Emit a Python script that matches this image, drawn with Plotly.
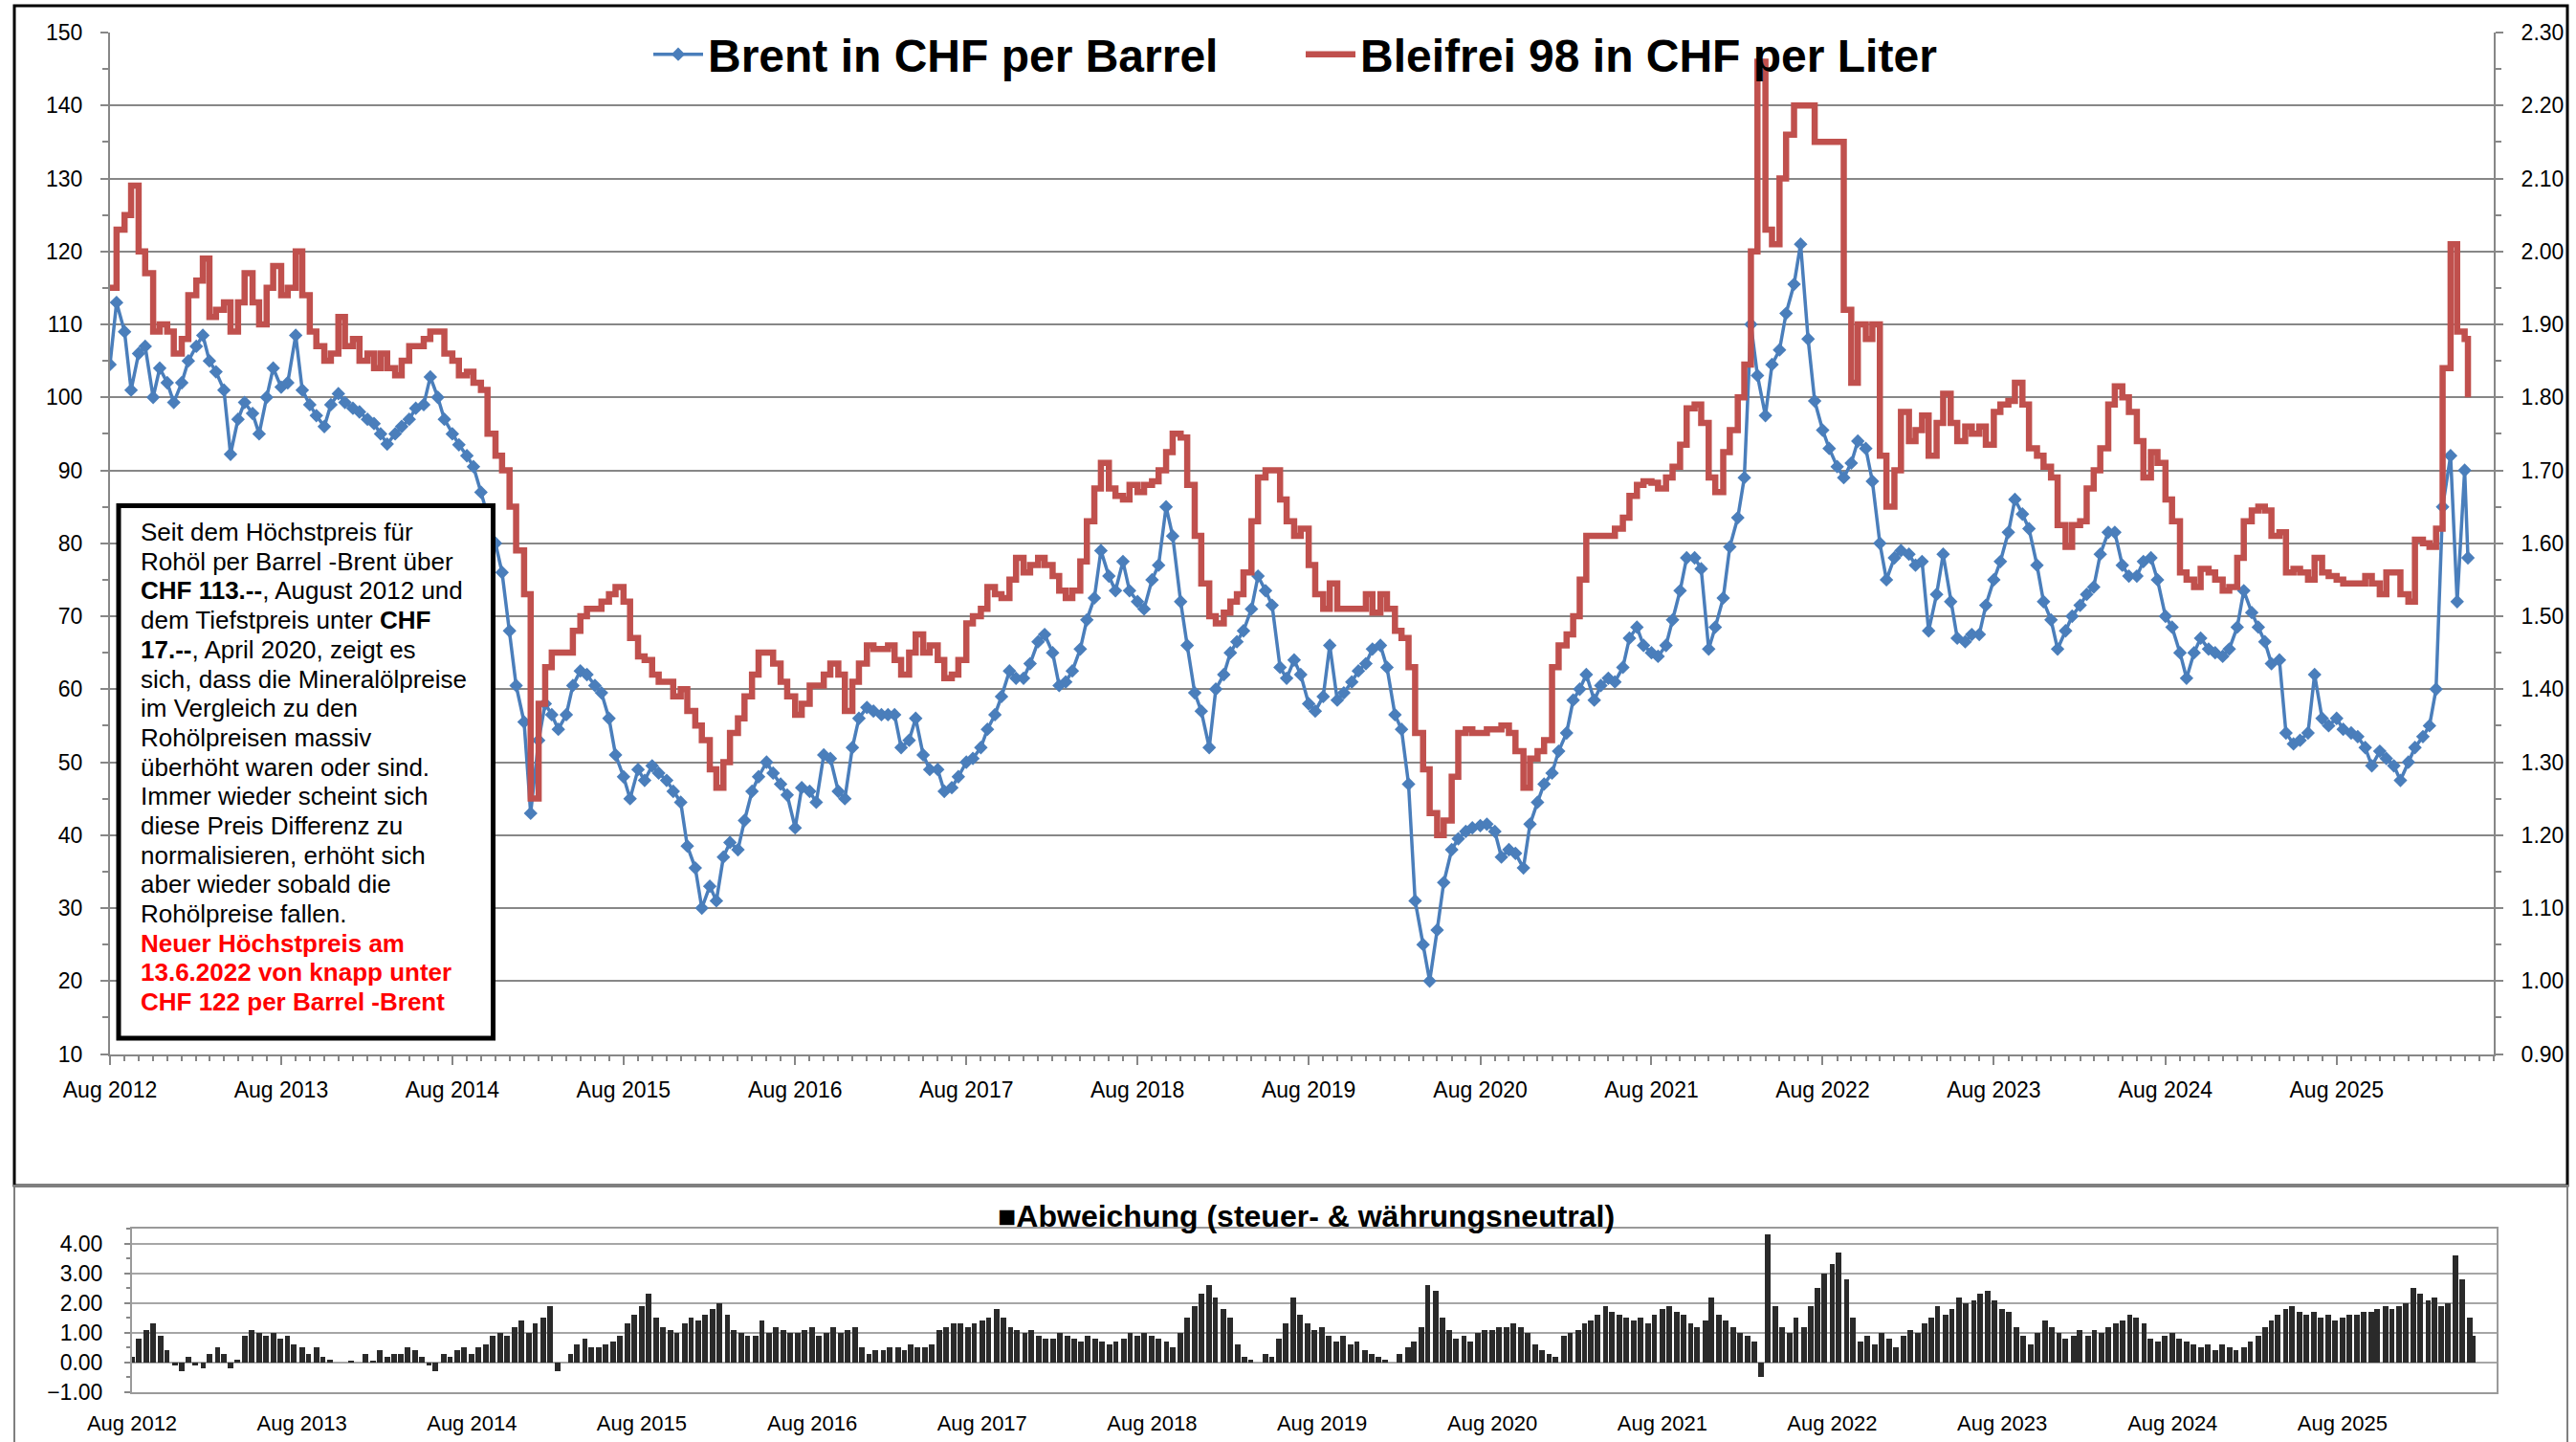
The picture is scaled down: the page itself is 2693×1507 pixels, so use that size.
import plotly.graph_objects as go

W, H = 2693, 1507
FONT = "Liberation Sans, Arial, sans-serif"
BLUE = "#4A7EBB"
RED = "#C0504D"
GRID = "#878787"

# ---------------- categories: semi-monthly dates (1st and 15th) ----------------
dates = []
for yr in range(2012, 2027):
    for mo in range(1, 13):
        if (yr, mo) < (2012, 8) or (yr, mo) > (2026, 4):
            continue
        dates.append(f"{yr}-{mo:02d}-01")
        dates.append(f"{yr}-{mo:02d}-15")
dates += ["2026-05-01", "2026-05-08"]

# ---------------- Brent in CHF per Barrel (left axis) ----------------
brent = [
    104.5, 113, 109, 101, 106, 107, 100, 104, 102, 99.3,                                   # 2012 Aug-Dec
    102, 105, 107, 108.5, 105, 103.5, 101, 92.2, 97, 99.3, 97.8, 95,
    100, 104, 101.4, 102, 108.5, 101, 99, 97.5, 96, 99, 100.5, 99.3,                       # 2013
    98.5, 98, 97, 96.4, 95, 93.6, 95, 96, 97, 98.5, 99, 102.8,
    100, 97, 95, 93.5, 92, 90.5, 87, 84, 80, 76, 68, 60.5,                                 # 2014
    55.5, 43, 53, 58, 56.5, 54.5, 56.5, 60.5, 62.5, 62, 60.5, 59.5,
    56, 51, 48, 45, 49, 47.5, 49.5, 48.5, 47.5, 46, 44.5, 38.5,                            # 2015
    35.5, 30, 33, 31, 37, 39, 38, 42, 46, 48, 50, 48.5,
    47, 45.5, 41, 46.5, 46, 44.5, 51, 50.5, 46, 45, 52, 56,                                # 2016
    57.5, 57, 56.5, 56.5, 56.5, 52, 53, 56, 51, 49, 49, 46,
    46.5, 48, 50, 50.5, 52, 54.5, 56.5, 59, 62.5, 61.5, 61.5, 63.5,                        # 2017
    66.5, 67.5, 65, 60.5, 61, 62.5, 65.5, 69.5, 72.5, 79, 75.5, 73.5,
    77.5, 73.5, 72, 71, 75, 77, 85, 81, 72, 66, 59.5, 57,                                  # 2018
    52, 60, 62, 65, 66.5, 68, 71, 75.5, 73.5, 71.5, 63, 61.5,
    64, 62, 58, 57, 59, 66, 58.5, 59.5, 61, 62.5, 63.5, 65.5,                              # 2019
    66, 63, 56.5, 54.5, 47, 31, 25, 20, 27, 33.5, 38, 39.5,
    40.5, 41, 41.3, 41.5, 40.5, 37, 38, 37.5, 35.5, 41.5, 44.5, 47,                        # 2020
    48.5, 51.5, 54, 58.5, 60, 62, 58.5, 60.5, 61.5, 61, 63, 67,
    68.5, 66, 65, 64.5, 66, 69.5, 73.5, 78, 78, 76.5, 65.5, 68.5,                          # 2021
    72.5, 79.5, 83.5, 89, 110, 103, 97.5, 104.5, 106.5, 111.5, 115.5, 121,
    108, 99.5, 95.5, 93, 90.5, 89, 91, 94, 93, 88.5, 80, 75,                               # 2022
    78, 79, 78.5, 77, 77.5, 68, 73, 78.5, 72, 67, 66.5, 67.5,
    67.5, 71.5, 75, 77.5, 81.5, 86, 84, 82, 77, 72, 69.5, 65.5,                            # 2023
    68, 70, 71.5, 73, 74, 78.5, 81.5, 81.5, 77, 75.5, 75.5, 77.5,
    78, 75, 70, 68.5, 65, 61.5, 65, 67, 65.5, 65, 64.5, 65.5,                              # 2024
    68.5, 73.5, 70.5, 68.5, 66.5, 63.5, 64, 54, 52.5, 53, 54, 62,
    56, 55, 56, 54.5, 54, 53.5, 52, 49.5, 51.5, 50.5, 49.5, 47.5,                          # 2025
    50, 52, 53.5, 55, 60, 85, 92, 72, 90, 78,                                              # 2026 Jan-May
]

# ---------------- Bleifrei 98 in CHF per Liter (right axis) ----------------
bleifrei = [
    1.95, 2.03, 2.05, 2.09, 2.00, 1.97, 1.89, 1.90, 1.89, 1.86,                            # 2012
    1.88, 1.94, 1.96, 1.99, 1.91, 1.92, 1.93, 1.89, 1.93, 1.97, 1.93, 1.90,
    1.95, 1.98, 1.94, 1.95, 2.00, 1.94, 1.89, 1.87, 1.85, 1.86, 1.91, 1.87,                # 2013
    1.88, 1.85, 1.86, 1.84, 1.86, 1.84, 1.83, 1.85, 1.87, 1.87, 1.88, 1.89,
    1.89, 1.86, 1.85, 1.83, 1.835, 1.82, 1.81, 1.75, 1.72, 1.70, 1.65, 1.59,               # 2014
    1.53, 1.25, 1.38, 1.43, 1.45, 1.45, 1.45, 1.48, 1.50, 1.51, 1.51, 1.52,
    1.53, 1.54, 1.52, 1.47, 1.445, 1.44, 1.42, 1.41, 1.41, 1.39, 1.40, 1.37,               # 2015
    1.35, 1.33, 1.29, 1.265, 1.30, 1.34, 1.36, 1.39, 1.42, 1.45, 1.45, 1.435,
    1.41, 1.39, 1.365, 1.38, 1.405, 1.405, 1.42, 1.435, 1.42, 1.37, 1.41, 1.435,           # 2016
    1.46, 1.455, 1.455, 1.46, 1.44, 1.42, 1.45, 1.475, 1.45, 1.46, 1.44, 1.415,
    1.42, 1.44, 1.49, 1.50, 1.51, 1.54, 1.53, 1.525, 1.55, 1.58, 1.56, 1.57,               # 2017
    1.58, 1.57, 1.555, 1.535, 1.525, 1.535, 1.575, 1.63, 1.675, 1.71, 1.675, 1.665,
    1.66, 1.68, 1.67, 1.68, 1.685, 1.70, 1.725, 1.75, 1.745, 1.68, 1.61, 1.545,            # 2018
    1.50, 1.49, 1.505, 1.52, 1.53, 1.56, 1.63, 1.69, 1.70, 1.70, 1.66, 1.63,
    1.61, 1.62, 1.57, 1.53, 1.51, 1.545, 1.51, 1.51, 1.51, 1.51, 1.53, 1.505,              # 2019
    1.53, 1.51, 1.48, 1.47, 1.43, 1.34, 1.29, 1.23, 1.20, 1.22, 1.28, 1.34,
    1.345, 1.34, 1.34, 1.345, 1.345, 1.35, 1.34, 1.315, 1.265, 1.305, 1.315, 1.33,         # 2020
    1.43, 1.46, 1.475, 1.50, 1.55, 1.61, 1.61, 1.61, 1.61, 1.62, 1.635, 1.665,
    1.68, 1.685, 1.683, 1.675, 1.69, 1.705, 1.735, 1.785, 1.79, 1.765, 1.69, 1.67,         # 2021
    1.725, 1.755, 1.80, 1.845, 2.00, 2.26, 2.03, 2.01, 2.10, 2.16, 2.20, 2.20,
    2.20, 2.15, 2.15, 2.15, 2.15, 1.92, 1.82, 1.90, 1.88, 1.90, 1.72, 1.65,                # 2022
    1.70, 1.78, 1.74, 1.755, 1.775, 1.72, 1.765, 1.805, 1.765, 1.74, 1.76, 1.75,
    1.76, 1.735, 1.78, 1.79, 1.795, 1.82, 1.79, 1.73, 1.72, 1.705, 1.69, 1.625,            # 2023
    1.595, 1.625, 1.63, 1.675, 1.70, 1.73, 1.79, 1.815, 1.80, 1.78, 1.74, 1.69,
    1.725, 1.71, 1.66, 1.63, 1.56, 1.55, 1.54, 1.565, 1.56, 1.55, 1.535, 1.54,             # 2024
    1.58, 1.63, 1.645, 1.65, 1.645, 1.61, 1.615, 1.56, 1.565, 1.56, 1.55, 1.58,
    1.56, 1.555, 1.55, 1.545, 1.545, 1.545, 1.555, 1.545, 1.53, 1.56, 1.56, 1.53,          # 2025
    1.52, 1.605, 1.60, 1.595, 1.62, 1.84, 2.01, 1.89, 1.88, 1.80,                          # 2026
]

# ---------------- Abweichung (steuer- & waehrungsneutral) ----------------
abweichung = [
    0.2, 0.8, 1.1, 1.3, 0.9, 0.4, -0.1, -0.3, 0.2, -0.1,                                   # 2012
    -0.2, 0.3, 0.5, 0.3, -0.2, 0.1, 0.9, 1.1, 1.0, 0.9, 1.0, 0.8,
    0.9, 0.6, 0.5, 0.3, 0.5, 0.2, 0.1, 0.0, 0.0, 0.05, 0.0, 0.3,                           # 2013
    0.05, 0.4, 0.2, 0.3, 0.3, 0.5, 0.4, 0.2, -0.1, -0.3, 0.3, 0.2,
    0.4, 0.5, 0.3, 0.5, 0.6, 0.9, 1.0, 0.9, 1.2, 1.4, 1.0, 1.3,                            # 2014
    1.5, 1.9, -0.3, 0.0, 0.3, 0.6, 0.8, 0.5, 0.5, 0.6, 0.7, 0.9,
    1.3, 1.6, 1.9, 2.3, 1.5, 1.2, 1.1, 1.0, 1.3, 1.5, 1.4, 1.6,                            # 2015
    1.8, 2.0, 1.6, 1.1, 1.0, 0.9, 0.9, 1.4, 1.0, 1.2, 1.1, 1.0,
    1.0, 1.1, 1.2, 0.9, 1.0, 1.2, 1.0, 1.1, 1.2, 0.5, 0.3, 0.4,                            # 2016
    0.4, 0.5, 0.5, 0.4, 0.6, 0.5, 0.5, 0.6, 1.1, 1.2, 1.3, 1.3,
    1.2, 1.3, 1.4, 1.5, 1.8, 1.5, 1.2, 1.1, 1.0, 1.1, 0.9, 0.8,                            # 2017
    0.8, 1.0, 0.9, 0.8, 0.7, 0.9, 0.8, 0.7, 0.6, 0.7, 0.8, 1.0,
    0.9, 1.0, 0.9, 0.8, 0.7, 0.5, 1.0, 1.5, 1.9, 2.3, 2.6, 2.2,                            # 2018
    1.8, 1.5, 0.6, 0.2, 0.1, 0.0, 0.3, 0.2, 0.8, 1.3, 2.2, 1.6,
    1.3, 1.1, 1.2, 0.9, 0.7, 0.9, 0.6, 0.7, 0.4, 0.3, 0.2, 0.1,                            # 2019
    0.0, 0.3, 0.5, 0.7, 1.2, 2.6, 2.4, 1.5, 1.1, 0.8, 0.9, 0.7,
    1.0, 1.1, 1.1, 1.2, 1.2, 1.3, 1.2, 1.0, 0.6, 0.4, 0.3, 0.2,                            # 2020
    0.9, 1.0, 1.1, 1.3, 1.4, 1.6, 1.9, 1.7, 1.6, 1.5, 1.4, 1.5,
    1.3, 1.6, 1.8, 1.9, 1.7, 1.6, 1.3, 1.2, 1.4, 2.2, 1.6, 1.4,                            # 2021
    1.2, 1.0, 0.9, 0.7, -0.5, 4.3, 1.9, 1.2, 1.0, 1.5, 1.2, 1.9,
    2.5, 3.0, 3.3, 3.7, 2.8, 1.5, 0.7, 0.9, 0.6, 1.0, 0.8, 0.5,                            # 2022
    0.9, 1.1, 1.0, 1.3, 1.5, 1.9, 1.6, 1.8, 2.2, 2.0, 2.1, 2.3,
    2.4, 2.1, 1.8, 1.7, 1.2, 0.9, 0.6, 1.0, 1.4, 1.2, 1.0, 0.8,                            # 2023
    0.9, 1.1, 0.9, 1.1, 1.0, 1.2, 1.3, 1.4, 1.6, 1.5, 1.3, 0.8,
    0.7, 0.9, 1.0, 0.8, 0.7, 0.6, 0.5, 0.6, 0.4, 0.6, 0.5, 0.4,                            # 2024
    0.5, 0.7, 0.9, 1.2, 1.4, 1.6, 1.8, 1.9, 1.7, 1.6, 1.7, 1.5,
    1.6, 1.4, 1.5, 1.6, 1.6, 1.7, 1.7, 1.8, 1.9, 1.8, 1.9, 2.0,                            # 2025
    2.5, 2.3, 2.1, 2.2, 1.9, 2.0, 3.6, 2.8, 1.5, 0.9,                                      # 2026
]

assert len(brent) == len(dates), (len(brent), len(dates))
assert len(bleifrei) == len(dates), (len(bleifrei), len(dates))
assert len(abweichung) == len(dates), (len(abweichung), len(dates))

# text box lines
box_lines = [
    "Seit dem Höchstpreis für",
    "Rohöl per Barrel -Brent über",
    "<b>CHF 113.--</b>, August 2012 und",
    "dem Tiefstpreis unter <b>CHF</b>",
    "<b>17.--</b>, April 2020, zeigt es",
    "sich, dass die Mineralölpreise",
    "im Vergleich zu den",
    "Rohölpreisen massiv",
    "überhöht waren oder sind.",
    "Immer wieder scheint sich",
    "diese Preis Differenz zu",
    "normalisieren, erhöht sich",
    "aber wieder sobald die",
    "Rohölpreise fallen.",
]
box_red_lines = [
    "Neuer Höchstpreis am",
    "13.6.2022 von knapp unter",
    "CHF 122 per Barrel -Brent",
]


def px(x):
    return x / W


def py(y):
    return 1 - y / H


fig = go.Figure()

fig.add_trace(go.Scatter(
    x=dates, y=brent, name="<b>Brent in CHF per Barrel</b>",
    mode="lines+markers",
    line=dict(color=BLUE, width=3.5),
    marker=dict(symbol="diamond", size=11, color=BLUE),
    xaxis="x", yaxis="y",
))
fig.add_trace(go.Scatter(
    x=dates, y=bleifrei, name="<b>Bleifrei 98 in CHF per Liter</b>",
    mode="lines",
    line=dict(color=RED, width=6.5, shape="hv"),
    xaxis="x", yaxis="y2",
))
fig.add_trace(go.Bar(
    x=dates, y=abweichung, name="Abweichung",
    width=12 * 86400000,
    marker=dict(color="#2a2a2a", line=dict(width=0)),
    xaxis="x2", yaxis="y3", showlegend=False,
))

tickfont = dict(family=FONT, size=23, color="black")

fig.update_layout(
    width=W, height=H,
    autosize=False,
    margin=dict(l=0, r=0, t=0, b=0, pad=0, autoexpand=False),
    paper_bgcolor="white", plot_bgcolor="white",
    font=dict(family=FONT, color="black"),
    showlegend=True,
    legend=dict(
        orientation="h", x=px(678), xanchor="left", y=py(57), yanchor="middle",
        font=dict(family=FONT, size=48, color="black"),
        bgcolor="rgba(0,0,0,0)", itemwidth=52,
        entrywidth=615, entrywidthmode="pixels",
        traceorder="normal",
    ),
    xaxis=dict(
        domain=[px(115), px(2607)], anchor="y", type="date",
        range=["2012-08-01", "2026-07-02"],
        tick0="2012-08-01", dtick="M12", tickformat="%b %Y",
        ticks="outside", ticklen=9, tickwidth=2, tickcolor=GRID,
        ticklabelstandoff=7, automargin=False,
        showline=True, linecolor=GRID, linewidth=2,
        showgrid=False, zeroline=False, tickfont=tickfont,
        minor=dict(dtick="M1", tick0="2012-08-01", ticks="outside", ticklen=5,
                   tickwidth=1.5, tickcolor=GRID, showgrid=False),
    ),
    yaxis=dict(
        domain=[py(1101.5), py(34)], anchor="x",
        range=[10, 150], tick0=10, dtick=10,
        ticks="outside", ticklen=8, tickwidth=2, tickcolor=GRID,
        ticklabelstandoff=14, automargin=False,
        showline=True, linecolor=GRID, linewidth=2,
        showgrid=True, gridcolor=GRID, gridwidth=2, zeroline=False,
        tickfont=tickfont,
        minor=dict(dtick=5, tick0=10, ticks="outside", ticklen=6,
                   tickwidth=1.5, tickcolor=GRID, showgrid=False),
    ),
    yaxis2=dict(
        overlaying="y", side="right", anchor="x",
        range=[0.9, 2.3], tick0=0.9, dtick=0.1, tickformat=".2f",
        ticks="outside", ticklen=8, tickwidth=2, tickcolor=GRID,
        ticklabelstandoff=14, automargin=False,
        showline=True, linecolor=GRID, linewidth=2,
        showgrid=False, zeroline=False, tickfont=tickfont,
        minor=dict(dtick=0.05, tick0=0.9, ticks="outside", ticklen=6,
                   tickwidth=1.5, tickcolor=GRID, showgrid=False),
    ),
    xaxis2=dict(
        domain=[px(138), px(2610)], anchor="y3", type="date",
        range=["2012-08-01", "2026-06-28"],
        tick0="2012-08-01", dtick="M12", tickformat="%b %Y",
        ticks="", ticklabelstandoff=12, automargin=False,
        showline=True, mirror=True, linecolor="#9a9a9a", linewidth=2,
        showgrid=False, zeroline=False,
        tickfont=dict(family=FONT, size=22, color="black"),
    ),
    yaxis3=dict(
        domain=[py(1455), py(1284)], anchor="x2",
        range=[-1, 4.5], tick0=-1, dtick=1, tickformat=".2f",
        ticks="outside", ticklen=6, tickwidth=2, tickcolor=GRID,
        ticklabelstandoff=18, automargin=False,
        showline=True, mirror=True, linecolor="#9a9a9a", linewidth=2,
        showgrid=True, gridcolor="#a6a6a6", gridwidth=2,
        zeroline=True, zerolinecolor="#a6a6a6", zerolinewidth=2,
        tickfont=tickfont,
        minor=dict(dtick=0.5, tick0=-1, ticks="outside", ticklen=4,
                   tickwidth=1.5, tickcolor=GRID, showgrid=False),
    ),
    bargap=0,
)

shapes = [
    # outer frame of the upper chart
    dict(type="rect", xref="paper", yref="paper",
         x0=px(15), x1=px(2684), y0=py(1239), y1=py(6),
         line=dict(color="black", width=3), fillcolor="rgba(0,0,0,0)", layer="below"),
    # outer frame of the lower chart
    dict(type="rect", xref="paper", yref="paper",
         x0=px(15), x1=px(2684), y0=py(1512), y1=py(1239),
         line=dict(color="#7f7f7f", width=2), fillcolor="rgba(0,0,0,0)", layer="below"),
    # text box
    dict(type="rect", xref="paper", yref="paper",
         x0=px(124), x1=px(515.5), y0=py(1085), y1=py(528.6),
         line=dict(color="black", width=5), fillcolor="white", layer="above"),
]
fig.update_layout(shapes=shapes)

annotations = []
y0 = 556.0
step = 30.7
for i, t in enumerate(box_lines + box_red_lines):
    red = i >= len(box_lines)
    annotations.append(dict(
        xref="paper", yref="paper", x=px(144.5), y=py(y0 + i * step),
        xanchor="left", yanchor="middle", showarrow=False,
        text=f"<b>{t}</b>" if red else t,
        font=dict(family=FONT, size=26, color="#FF0000" if red else "black"),
    ))
annotations.append(dict(
    xref="paper", yref="paper", x=px(1365), y=py(1271),
    xanchor="center", yanchor="middle", showarrow=False,
    text="<b>■Abweichung (steuer- &amp; währungsneutral)</b>",
    font=dict(family=FONT, size=32, color="black"),
))
fig.update_layout(annotations=annotations)

fig.write_html(
    "out.html",
    config={"displayModeBar": False},
    post_script="document.body.style.margin='0';document.body.style.padding='0';",
)
